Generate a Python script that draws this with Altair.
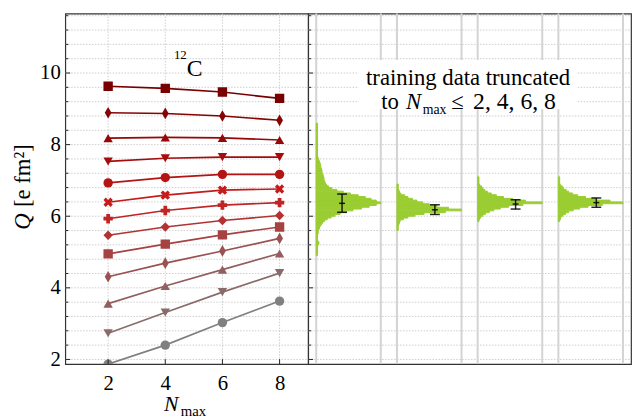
import altair as alt
import pandas as pd

# ---------------- data ----------------
nmax = [2, 4, 6, 8]
q_values = [
    [1.87, 2.40, 3.03, 3.63],
    [2.73, 3.31, 3.88, 4.41],
    [3.56, 4.05, 4.51, 4.96],
    [4.31, 4.69, 5.03, 5.38],
    [4.95, 5.22, 5.48, 5.70],
    [5.47, 5.70, 5.88, 6.02],
    [5.93, 6.16, 6.31, 6.38],
    [6.39, 6.59, 6.73, 6.76],
    [6.93, 7.08, 7.17, 7.17],
    [7.53, 7.62, 7.65, 7.65],
    [8.18, 8.20, 8.19, 8.13],
    [8.89, 8.87, 8.80, 8.68],
    [9.63, 9.57, 9.47, 9.29],
]
series_colors = ["#808080", "#8a6b6b", "#935e5e", "#9b5151", "#a64242", "#b23333",
                 "#c02424", "#c41b1b", "#b51414", "#a50d0d", "#960808", "#860404", "#780000"]
THIN_DIAMOND = "M0,-1.25L0.72,0L0,1.25L-0.72,0Z"
X_FILLED = ("M-0.5,-1L0,-0.5L0.5,-1L1,-0.5L0.5,0L1,0.5L0.5,1L0,0.5L-0.5,1"
            "L-1,0.5L-0.5,0L-1,-0.5Z")
series_shapes = ["circle", "triangle-down", "triangle-up", THIN_DIAMOND, "square", "diamond",
                 "cross", X_FILLED, "circle", "triangle-down", "triangle-up", THIN_DIAMOND, "square"]

y_grid = [2.0, 2.4, 2.8, 3.2, 3.6, 4.0, 4.4, 4.8, 5.2, 5.6, 6.0, 6.4, 6.8, 7.2, 7.6,
          8.0, 8.4, 8.8, 9.2, 9.6, 10.0, 10.4, 10.8, 11.2, 11.6]
y_major = [2, 4, 6, 8, 10]
y_minor = [v for v in y_grid if v not in y_major]
x_major = [2, 4, 6, 8]

# histograms of the predicted Q (relative widths, bins of 0.05)
hist_bin = 0.05
hist_starts = [4.90, 5.60, 5.85, 5.85]
hist_dens = [
    [0.02, 0.02, 0.02, 0.02, 0.02, 0.02, 0.04, 0.04, 0.02, 0.02, 0.02, 0.02,   # 4.90-5.45
     0.03, 0.03, 0.04, 0.05, 0.06, 0.08, 0.10, 0.13, 0.17, 0.23,               # 5.50-5.95
     0.29, 0.37, 0.47, 0.57, 0.70, 0.82, 0.93, 1.00, 0.93, 0.85,               # 6.00-6.45
     0.76, 0.65, 0.53, 0.42, 0.32, 0.24, 0.19, 0.16, 0.14, 0.13,               # 6.50-6.95
     0.12, 0.12, 0.11, 0.10, 0.09, 0.09, 0.08, 0.07, 0.07, 0.06,               # 7.00-7.45
     0.05, 0.04, 0.03, 0.02, 0.02, 0.02, 0.02, 0.02, 0.02, 0.02,               # 7.50-7.95
     0.02, 0.02, 0.02, 0.02, 0.02, 0.02, 0.02, 0.02, 0.02, 0.02, 0.02, 0.02],  # 8.00-8.55
    [0.02, 0.02, 0.02, 0.03, 0.04, 0.05, 0.10, 0.17, 0.28, 0.42,               # 5.60-6.05
     0.75, 1.00, 0.80, 0.62, 0.50, 0.40, 0.31, 0.24, 0.17, 0.12,               # 6.10-6.55
     0.06, 0.04, 0.03, 0.02, 0.02, 0.02],                                      # 6.60-6.85
    [0.02, 0.03, 0.05, 0.08, 0.12, 0.18, 0.25, 0.35, 0.48, 0.70,               # 5.85-6.30
     1.00, 0.74, 0.54, 0.40, 0.29, 0.21, 0.15, 0.11, 0.08, 0.06,               # 6.35-6.80
     0.03, 0.02, 0.02, 0.02, 0.02],                                            # 6.85-7.05
    [0.02, 0.03, 0.04, 0.07, 0.11, 0.16, 0.23, 0.33, 0.46, 0.68,               # 5.85-6.30
     1.00, 0.80, 0.58, 0.42, 0.30, 0.22, 0.16, 0.12, 0.08, 0.06,               # 6.35-6.80
     0.03, 0.02, 0.02, 0.02, 0.02],                                            # 6.85-7.05
]
group_edges = [0.1, 0.9, 1.1, 1.9, 2.1, 2.9, 3.1, 3.9]
eb_pos = [0.42, 1.57, 2.57, 3.57]
eb_mean = [6.36, 6.18, 6.34, 6.38]
eb_lo = [6.11, 6.05, 6.20, 6.25]
eb_hi = [6.62, 6.32, 6.46, 6.51]

# ---------------- tables ----------------
series_ids = ["s%02d" % i for i in range(len(q_values))]
df_lines = pd.DataFrame([
    {"s": sid, "n": n, "q": q}
    for sid, qs in zip(series_ids, q_values) for n, q in zip(nmax, qs)
])
rows = []
for g, (start, dens) in enumerate(zip(hist_starts, hist_dens)):
    x0 = group_edges[2 * g]
    wmax = group_edges[2 * g + 1] - x0
    for i, d in enumerate(dens):
        lo = start + i * hist_bin
        rows.append({"y": lo, "y2": lo + hist_bin, "x": x0, "x2": x0 + wmax * d})
df_hist = pd.DataFrame(rows)
df_eb = pd.DataFrame({"x": eb_pos, "m": eb_mean, "lo": eb_lo, "hi": eb_hi})

# ---------------- style ----------------
FONT = "Liberation Serif"
W1, W2, H = 246, 327, 355
GRID_STYLE = dict(color="#c8c8c8", strokeDash=[1.5, 1.5], strokeWidth=0.9)
ys = alt.Scale(domain=[1.87, 11.66], zero=False, nice=False)
xs1 = alt.Scale(domain=[0.5, 9.0], zero=False, nice=False)
xs2 = alt.Scale(domain=[0, 4], zero=False, nice=False)

y_axis_left = alt.Axis(values=y_major, format="d", labelOverlap=False, ticks=False, domain=False, grid=False,
                       labelFont=FONT, labelFontSize=21, labelColor="black", labelPadding=5, title=None)
x_axis_left = alt.Axis(values=x_major, format="d", ticks=False, domain=False, grid=False, labelFont=FONT,
                       labelFontSize=21, labelColor="black", labelPadding=9, title=None)


def label(txt, x, y, size=22, italic=False, align="left", angle=0):
    return alt.Chart(pd.DataFrame({"t": [txt]})).mark_text(
        font=FONT, fontSize=size, fontStyle="italic" if italic else "normal",
        align=align, baseline="alphabetic", angle=angle, color="black"
    ).encode(text="t:N", x=alt.value(x), y=alt.value(y))


def hrules(values, x_end, axis, style):
    return alt.Chart(pd.DataFrame({"v": values})).mark_rule(**style).encode(
        y=alt.Y("v:Q", scale=ys, axis=axis), x=alt.value(0), x2=alt.value(x_end))


TICK = dict(color="#222", strokeWidth=1)

# ---------------- left panel ----------------
enc_x = alt.X("n:Q", scale=xs1, axis=x_axis_left)
enc_y = alt.Y("q:Q", scale=ys, axis=y_axis_left)
enc_c = alt.Color("s:N", scale=alt.Scale(domain=series_ids, range=series_colors), legend=None)

vgrid = alt.Chart(pd.DataFrame({"v": x_major})).mark_rule(**GRID_STYLE).encode(
    x=alt.X("v:Q", scale=xs1, axis=x_axis_left))
lines = alt.Chart(df_lines).mark_line(strokeWidth=1.7, clip=True).encode(x=enc_x, y=enc_y, color=enc_c)
points = alt.Chart(df_lines).mark_point(filled=True, size=90, opacity=1, clip=True).encode(
    x=enc_x, y=enc_y, color=enc_c,
    shape=alt.Shape("s:N", scale=alt.Scale(domain=series_ids, range=series_shapes), legend=None))
xticks = alt.Chart(pd.DataFrame({"v": x_major})).mark_rule(**TICK).encode(
    x=alt.X("v:Q", scale=xs1, axis=x_axis_left), y=alt.value(H), y2=alt.value(H - 5))
anchor = alt.Chart(pd.DataFrame({"v": [0]})).mark_rect(opacity=0).encode(
    x=alt.value(-57), x2=alt.value(-56), y=alt.value(-2), y2=alt.value(0))

left = alt.layer(
    anchor, hrules(y_grid, W1, y_axis_left, GRID_STYLE), vgrid, lines, points,
    hrules(y_major, 5, y_axis_left, TICK), hrules(y_minor, 3, y_axis_left, TICK), xticks,
    label("12", 123, 46, size=13, align="right"),
    label("C", 123, 63, size=24),
    label("N", 100, 403, italic=True),
    label("max", 117, 408, size=15),
    label("Q", -36, 219, italic=True, angle=270, size=23),
    label("[e fm²]", -36, 196, angle=270, size=23),
).properties(width=W1, height=H)

# ---------------- right panel ----------------
xr = alt.X("x:Q", scale=xs2, axis=None)
yr = dict(scale=ys, axis=None)
vlines = alt.Chart(pd.DataFrame({"gx": group_edges})).mark_rule(color="#d3d3d3", strokeWidth=2).encode(
    x=alt.X("gx:Q", scale=xs2, axis=None))
hist = alt.Chart(df_hist).mark_rect(color="#9acd32", stroke="#9acd32", strokeWidth=1).encode(
    x=xr, x2="x2:Q", y=alt.Y("y:Q", **yr), y2="y2:Q")
eb_rule = alt.Chart(df_eb).mark_rule(color="black", strokeWidth=1.5, opacity=0.85).encode(
    x=xr, y=alt.Y("lo:Q", **yr), y2="hi:Q")


def eb_tick(field, size):
    return alt.Chart(df_eb).mark_tick(color="black", orient="horizontal", size=size, thickness=1.5,
                                      opacity=0.85).encode(x=xr, y=alt.Y(field + ":Q", **yr))


box = alt.Chart(pd.DataFrame({"v": [0]})).mark_rect(color="white", cornerRadius=5).encode(
    x=alt.value(51), x2=alt.value(272), y=alt.value(47), y2=alt.value(97))

right = alt.layer(
    hrules(y_grid, W2, None, GRID_STYLE), vlines, hist, eb_rule, eb_tick("lo", 10), eb_tick("hi", 10),
    eb_tick("m", 6), hrules(y_major, 5, None, TICK), hrules(y_minor, 3, None, TICK), box,
    label("training data truncated", 162, 72, align="center", size=23),
    label("to", 74, 97, size=23),
    label("N", 99, 97, italic=True, size=23),
    label("max", 116, 102, size=14),
    label("≤", 145, 97, size=23),
    label("2, 4, 6, 8", 167, 97, size=24),
).properties(width=W2, height=H)

chart = alt.hconcat(left, right, spacing=0, bounds="flush").properties(
    padding=0
).configure_view(stroke="#333", strokeWidth=1.2)

chart.save("out.html", embed_options={"renderer": "svg", "actions": False})
